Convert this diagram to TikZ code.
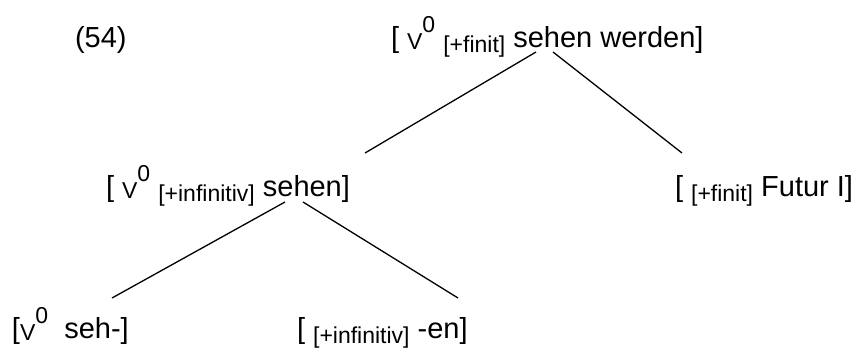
\documentclass[tikz,border=0pt]{standalone}
\usepackage{fontspec}
\setmainfont{Liberation Sans}
\newcommand{\mainsz}{\fontsize{29}{34}\selectfont}
\newcommand{\smsz}{\fontsize{23}{27}\selectfont}
\newcommand{\lowx}[1]{\raisebox{-5pt}{\smsz #1}}
\newcommand{\vsub}{\raisebox{-2pt}{\smsz V}}
\newcommand{\zsup}{\raisebox{15pt}{\smsz 0}}
\begin{document}
\begin{tikzpicture}[x=1pt,y=-1pt,
  lab/.style={anchor=base west,inner sep=0pt,outer sep=0pt,font=\mainsz},
  branch/.style={line width=1.3pt,line cap=butt}]
\useasboundingbox (0,0) rectangle (862,351);
% labels
\node[lab] (ex) at (75,47) {(54)};
\node[lab] (top) at (391,47) {[ \vsub\zsup\ \lowx{[+finit]} sehen werden]};
\node[lab] (mid) at (106,196) {[ \vsub\zsup\ \lowx{[+infinitiv]} sehen]};
\node[lab] (fut) at (675,196) {[ \lowx{[+finit]} Futur I]};
\node[lab] (seh) at (12,338) {[\vsub\zsup\ \ seh-]};
\node[lab] (en) at (297,338) {[ \lowx{[+infinitiv]} -en]};
% branch end points
\coordinate (t1) at (536,52);
\coordinate (t2) at (553,52);
\coordinate (m1) at (365,153);
\coordinate (r1) at (682,153);
\coordinate (m2) at (285,202);
\coordinate (m3) at (303,202);
\coordinate (b1) at (112,298);
\coordinate (b2) at (458,298);
\draw[branch] (t1) -- (m1);
\draw[branch] (t2) -- (r1);
\draw[branch] (m2) -- (b1);
\draw[branch] (m3) -- (b2);
\end{tikzpicture}
\end{document}
